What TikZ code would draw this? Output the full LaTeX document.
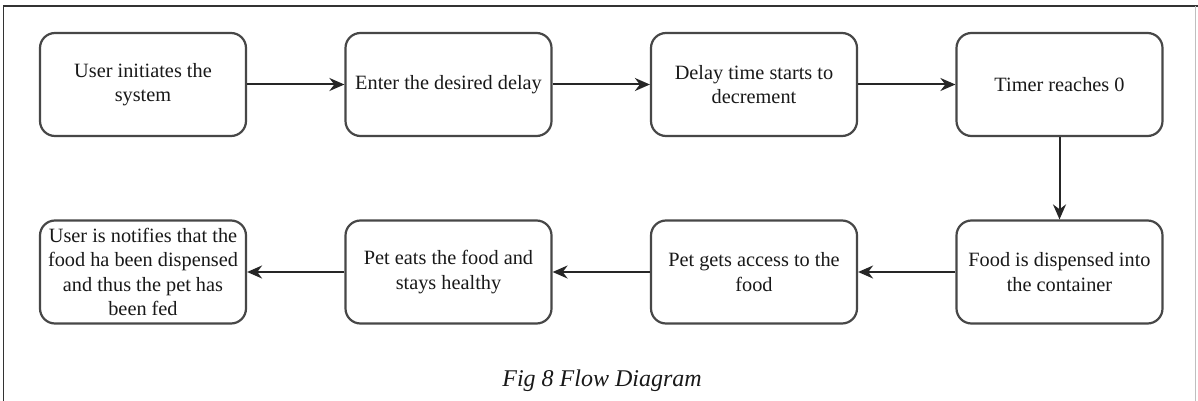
\documentclass[tikz,border=0pt]{standalone}
\usepackage{fontspec}
\setmainfont{Liberation Serif}
\usetikzlibrary{arrows.meta}
\begin{document}
\begin{tikzpicture}[x=1pt,y=-1pt,
  stepbox/.style={draw=black!72, line width=2.2pt, rounded corners=15pt, fill=white,
    minimum width=206pt, minimum height=103pt, text width=195pt, align=flush center,
    inner sep=0pt, font=\fontsize{20.3pt}{24.5pt}\selectfont, text=black!90},
  flow/.style={draw=black!85, line width=2pt, -{Stealth[length=15pt,width=13pt]}}]
\useasboundingbox (0,0) rectangle (1198,401);
\fill[white] (0,0) rectangle (1198,401);
% frame
\draw[black!80, line width=1.6pt] (3.5,401) -- (3.5,6) -- (1198,6);
\draw[black!25, line width=1.2pt] (1195.5,6) -- (1195.5,401);
% row 1
\node[stepbox] (a) at (143,84.5) {User initiates the system};
\node[stepbox] (b) at (448.5,84.5) {Enter the desired delay};
\node[stepbox] (c) at (754,84.5) {Delay time starts to decrement};
\node[stepbox] (d) at (1059.5,84.5) {Timer reaches 0};
% row 2
\node[stepbox] (e) at (1059.5,272) {Food is dispensed into the container};
\node[stepbox] (f) at (754,272) {Pet gets access to the food};
\node[stepbox] (g) at (448.5,272) {Pet eats the food and stays healthy};
\node[stepbox] (h) at (143,272) {User is notifies that the food ha been dispensed and thus the pet has been fed};
% arrows
\draw[flow] (a) -- (b);
\draw[flow] (b) -- (c);
\draw[flow] (c) -- (d);
\draw[flow] (d) -- (e);
\draw[flow] (e) -- (f);
\draw[flow] (f) -- (g);
\draw[flow] (g) -- (h);
% caption
\node[font=\fontsize{24pt}{28pt}\selectfont\itshape, text=black!90] (cap) at (602,381) {Fig 8 Flow Diagram};
\end{tikzpicture}
\end{document}
